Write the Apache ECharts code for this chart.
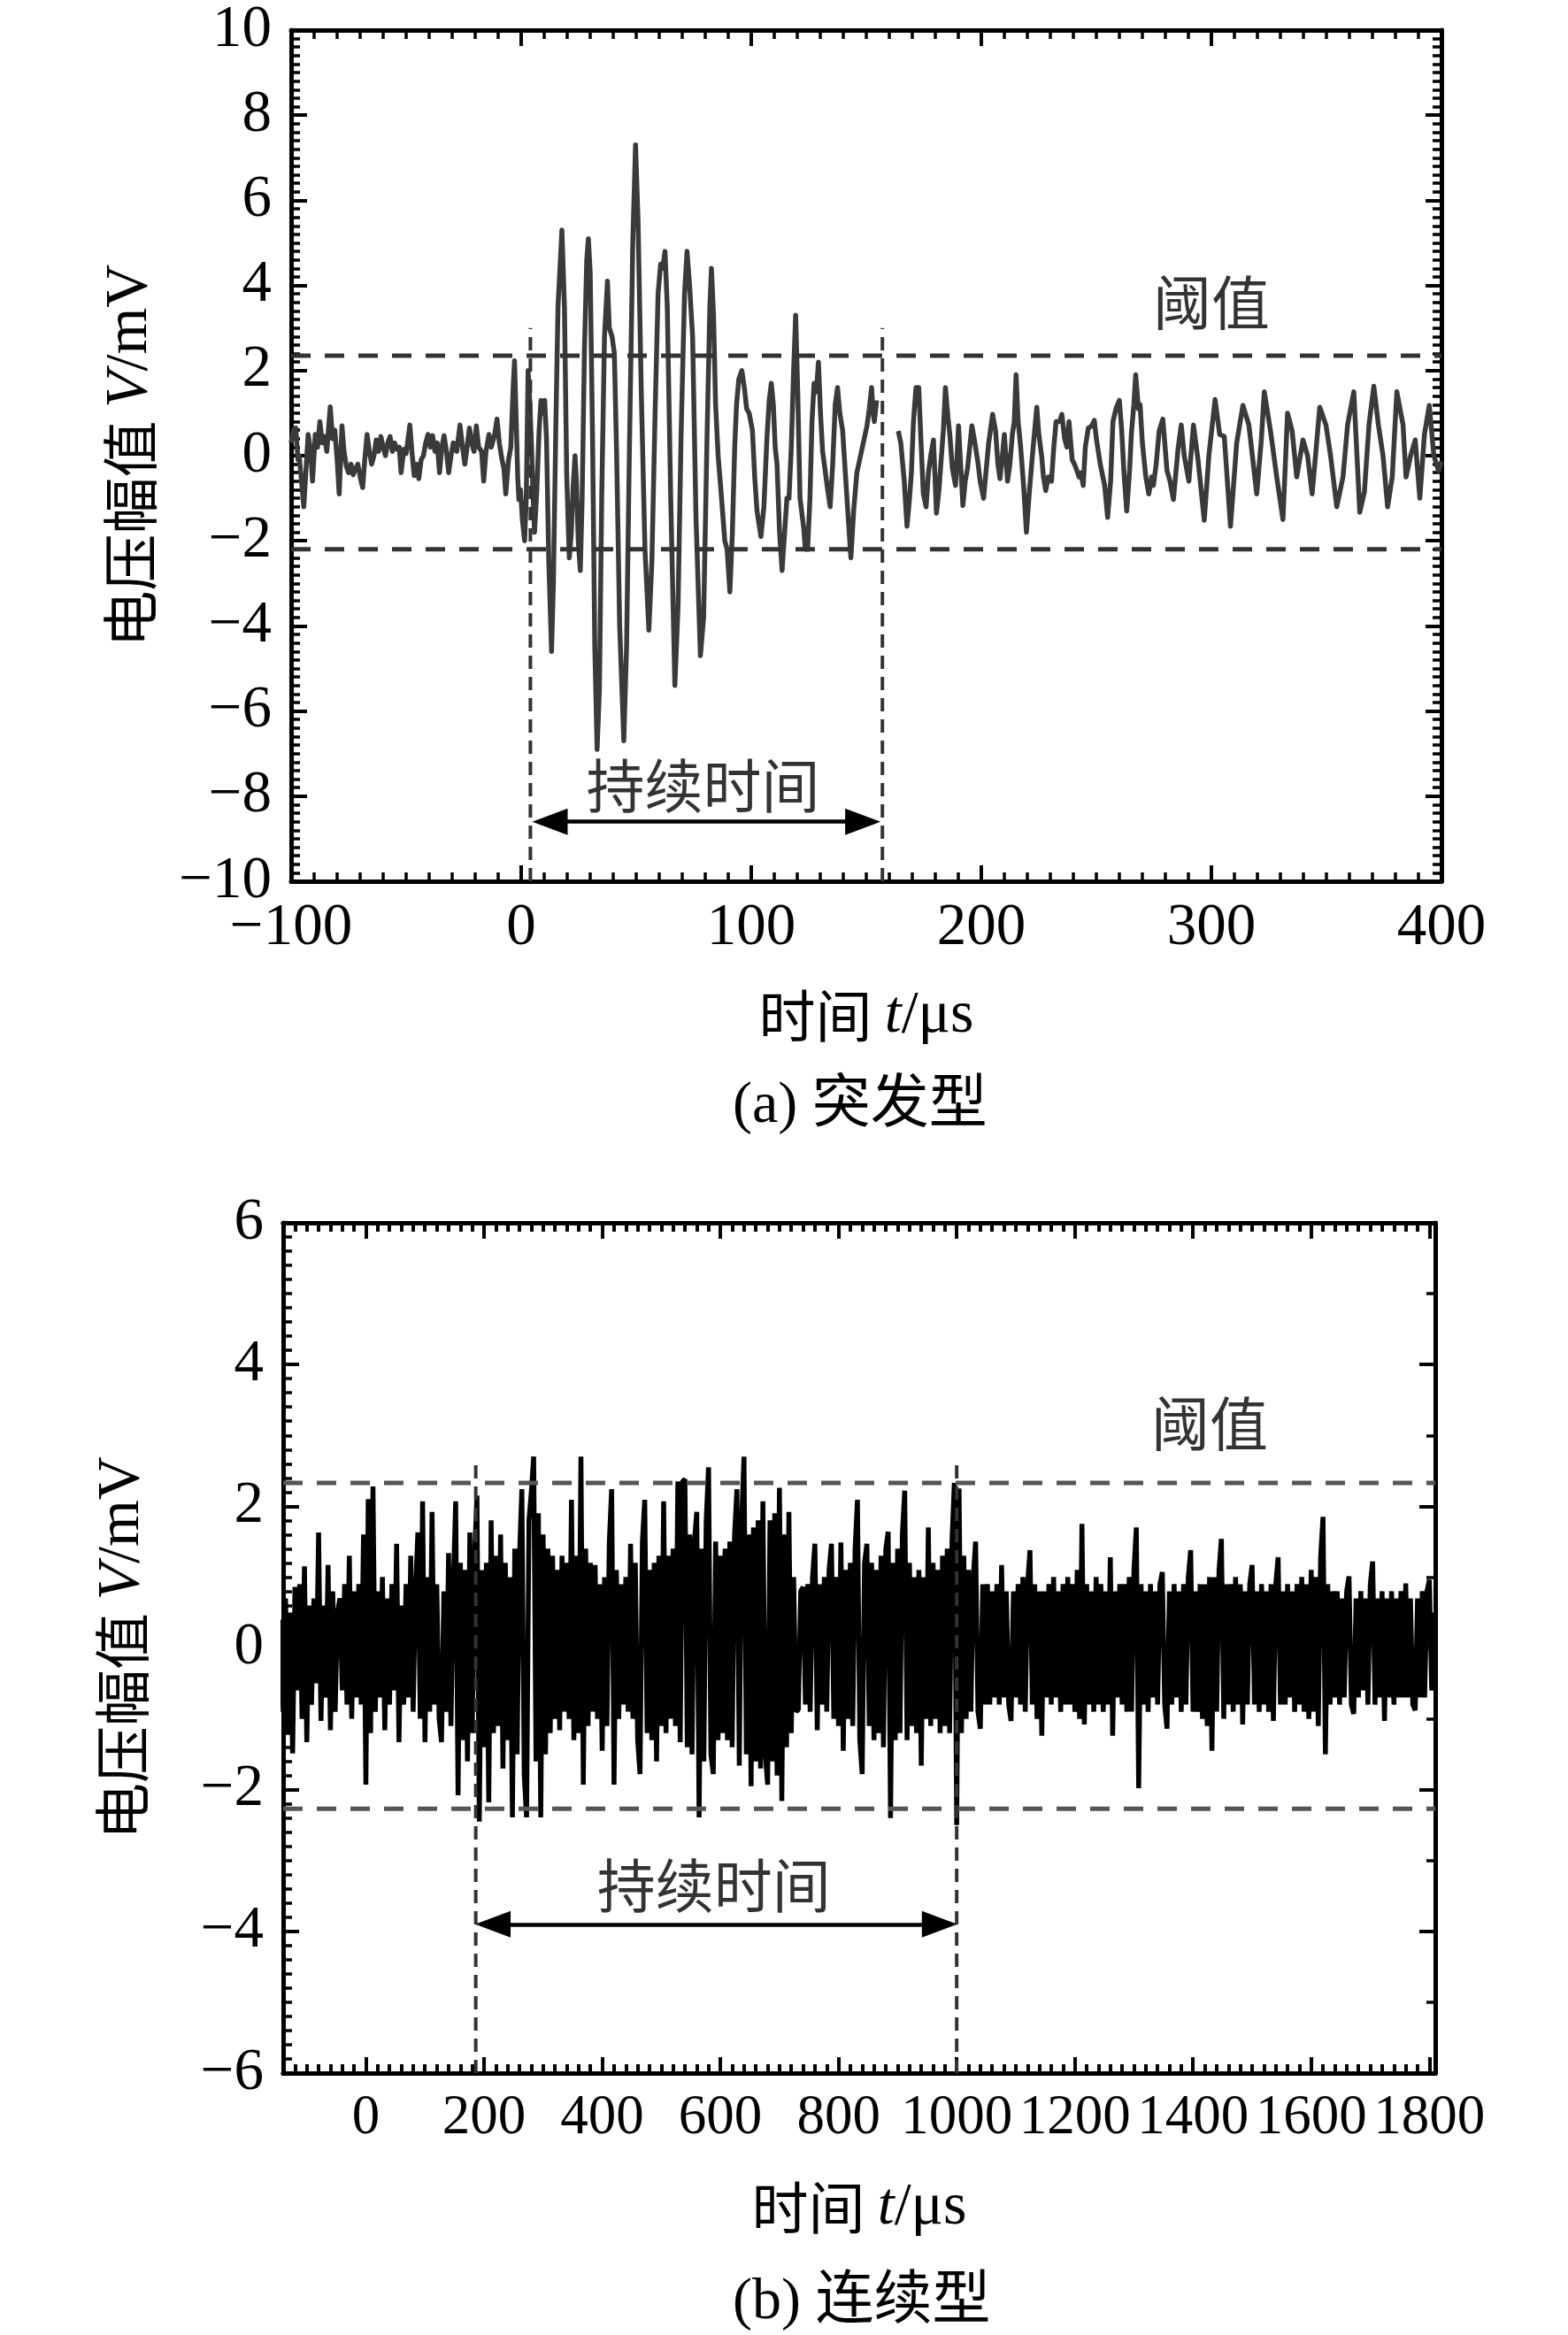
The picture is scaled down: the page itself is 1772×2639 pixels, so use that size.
<!DOCTYPE html>
<html lang="zh">
<head>
<meta charset="UTF-8">
<title>突发型与连续型信号</title>
<script src="https://cdn.jsdelivr.net/npm/echarts@6/dist/echarts.min.js"></script>
<style>
  html, body { margin: 0; padding: 0; background: #fff; }
  #main { width: 1772px; height: 2639px; }
</style>
</head>
<body>
<div id="main"></div>
<script>
// ---------- (a) 突发型 : [t (µs), V (mV)], '-' = break after the burst ----------
var burstSignal = [
  [-100,0.3],[-99,0.6],[-98,0.65],[-97,-0.1],[-96.5,0],[-95.5,-0.6],[-94.5,-1.2],[-93.5,-0.3],[-92.6,0.5],[-91.5,0.1],
  [-90.7,-0.6],[-89.5,0.5],[-88.5,0.2],[-87.5,0.8],[-86.5,0.3],[-85.5,0.45],[-84.5,0.1],[-83,1.15],[-82,0.4],[-81,0.6],
  [-80,-0.1],[-79.1,-0.9],[-77.9,0.7],[-77,0.1],[-76,-0.25],[-75,-0.4],[-74,-0.2],[-73,-0.45],[-72,-0.3],[-71,-0.2],
  [-70,-0.5],[-68.9,-0.75],[-68,-0.1],[-67,0.5],[-66,0.1],[-65,-0.2],[-64,0],[-63,0.37],[-62,0.1],[-61,0.45],
  [-60,0.2],[-59,0],[-58,0.3],[-57,0.45],[-56,0.1],[-55,0.3],[-54,0.15],[-53,0.2],[-52.2,-0.4],[-51,0.15],
  [-50,0.05],[-48.4,0.72],[-47.5,0.1],[-46.5,-0.47],[-45.5,-0.2],[-44.5,-0.54],[-43.5,-0.1],[-42.5,0],[-41.5,0.3],[-40.5,0.5],
  [-39.5,0.2],[-38.5,0.47],[-37.5,0.1],[-36.5,0.3],[-35.5,-0.4],[-34.5,0.2],[-33.5,0.47],[-32.5,0.1],[-31.5,-0.4],[-30.5,0],
  [-29.5,0.3],[-28,0.1],[-26.6,0.72],[-25.5,0.2],[-24.5,-0.2],[-23.5,0.2],[-22.5,0.65],[-21.5,0.3],[-20.5,0.1],[-19.5,0.7],
  [-18.5,0.2],[-17.2,0.1],[-16.3,-0.6],[-15.3,0.1],[-14,0.5],[-13,0.2],[-11.5,0.5],[-10.5,0.86],[-9.5,0.3],[-8.5,-0.05],
  [-7.5,-0.3],[-6.7,-0.9],[-5.5,-0.1],[-4.5,0.2],[-3.5,1.6],[-2.9,2.23],[-2.2,0.9],[-1.5,-0.5],[-1,-1.03],[-0.3,-0.8],
  [0.5,-1.5],[1.5,-2],[2.2,-1],[3,2],[3.8,1.2],[4.5,0.2],[5.2,-1],[5.8,-1.8],[6.8,-0.8],[7.8,0.6],
  [8.6,1.3],[9.5,1],[10.2,1.3],[11,0.4],[12,-2.5],[13.2,-4.6],[14,-3],[15,0.5],[16,3.5],[17.7,5.3],
  [18.8,3.5],[19.8,-0.5],[20.9,-2.4],[21.8,-1.8],[22.5,-0.8],[23.4,0],[24,-0.6],[24.8,-2],[25.7,-2.7],[26.5,-1],
  [27.5,2.5],[28.5,4.6],[29.2,5.1],[30,4.3],[31,0.5],[32,-4.5],[33,-6.9],[34,-5.5],[35,-1],[36.2,2.8],
  [37.5,4.1],[38.3,3],[39.5,2.8],[40.5,2.4],[41.5,0],[42.8,-4],[44.6,-6.7],[45.8,-4.5],[47,0],[48.5,5],
  [49.7,7.3],[50.8,5.5],[52.2,1.5],[53.8,-2.2],[55.5,-4.1],[56.8,-2.5],[58.2,1],[59.5,3.8],[60.6,4.5],[61.5,4.4],
  [62.5,4.8],[63.5,3.5],[65,-1],[66.8,-5.4],[68.2,-3.5],[69.5,0.5],[71,3.8],[72.1,4.8],[73.2,4],[74.5,2.8],
  [76,-1.5],[77.9,-4.7],[79.3,-3.8],[80.8,0.5],[82,3.5],[82.7,4.4],[83.6,3.3],[84.5,1.2],[85.6,0],[86.8,-0.8],
  [88.5,-2],[89.5,-2.2],[90.7,-3.2],[91.8,-1.8],[92.8,0.2],[93.6,1.2],[94.6,1.8],[95.9,2],[97,1.6],[98,1.1],
  [99.1,1],[100.5,0.6],[101.5,-0.5],[102.5,-1.3],[104.2,-1.9],[105.5,-1.2],[106.8,0.4],[107.8,1.3],[108.7,1.7],[109.6,1.2],
  [110.4,0.2],[111.2,-0.2],[112.3,-1.8],[113.4,-2.7],[114.5,-1.8],[115.5,-1],[116.4,-1],[117.4,0.2],[118.4,2],[119.3,3.3],
  [120.2,1.5],[121.2,-1],[122.8,-1.7],[123.5,-2.2],[124.5,-2.2],[125.5,-1],[126.4,0.8],[127.3,1.7],[128.3,1.5],[129.2,2.2],
  [130.1,1],[131,0.1],[132,-0.3],[133.2,-0.8],[134.3,-1.2],[135.4,-0.2],[136.5,1.2],[137.5,1.6],[138.5,1],[139.7,0.6],
  [141,-0.5],[142.2,-1.5],[143.3,-2.4],[144.5,-1.3],[145.9,-0.4],[147.5,0],[149.1,0.4],[150.3,0.7],[151.3,1.1],[152.3,1.6],
  [153,1],[153.5,0.8],[154.5,1.3],[158,'-'],
  [163.9,0.58],[165,0.3],[166.5,-0.6],[167.7,-1.66],[168.8,-1],[169.6,-0.4],[170.5,0.8],[171.6,1.6],[172.8,1.6],[173.8,0.3],
  [174.8,-0.9],[176,-1.2],[177,-0.4],[178,0],[179.2,0.37],[180.5,-1.35],[181.6,-0.8],[182.4,-0.2],[183.5,0.6],[184.4,1.6],
  [185.5,0.9],[186.3,0.5],[187.4,-0.3],[188.8,-0.7],[190.1,0.7],[191,-0.2],[192,-1.17],[193,-0.6],[194,-0.3],[195.9,0.7],
  [197.2,0.3],[198.5,-0.15],[199.5,-0.6],[201,-1],[202,-0.4],[203.2,0.3],[204.9,0.97],[206.2,0.58],[207.2,-0.2],[208.1,-0.54],
  [209,-0.1],[210,0.5],[211.4,-0.6],[212.4,-0.2],[213.5,0.5],[214.3,0.8],[215.1,1.9],[216,0.8],[217.1,0.2],[218.5,-0.8],
  [219.6,-1.8],[220.8,-0.9],[222.2,0],[223.2,0.6],[224.1,1.14],[225,0.5],[226.2,0],[227,-0.5],[228,-0.82],[229.1,-0.5],
  [230.5,-0.6],[231.5,0.2],[232.5,0.8],[234,0.8],[235,0.97],[236.2,0.4],[237.2,0.2],[238.1,0.8],[239.5,-0.1],[240.5,-0.2],
  [241.4,-0.33],[242.5,-0.5],[243.3,-0.4],[244.3,-0.7],[245.2,0.2],[246.5,0.65],[248,0.7],[249.1,0.83],[250,0.4],[251.7,-0.2],
  [253.6,-0.7],[254.9,-1.45],[256.2,-0.6],[257.2,0.8],[258.5,1.1],[260,1.3],[261,0.6],[262,-0.4],[263.2,-1.3],[264.5,-0.3],
  [265.2,0.5],[266.3,1.2],[267.1,1.9],[268.3,1.1],[269,1.2],[270,0.3],[271.5,-0.5],[272.8,-0.9],[274,-0.5],[274.8,-0.7],
  [276,-0.2],[277.3,0.58],[278.9,0.86],[280.7,-0.35],[282,-0.6],[283.5,-1.03],[285.5,0.16],[286.9,0.72],[288.2,0],[290.2,-0.6],
  [292.2,0.72],[294.2,-0.1],[296.9,-1.52],[298.9,0],[301.6,1.32],[303.6,0.5],[305.6,0.45],[308.3,-1.66],[311,0.3],[313.7,1.18],
  [316.3,0.72],[319.7,-0.9],[321.7,0.37],[323,1.5],[325.7,0.58],[328.4,-0.5],[331.1,-1.5],[333.1,1],[335.1,0.58],[337.1,-0.5],
  [339.8,0.37],[341.8,0],[343.8,-0.9],[347.1,1.14],[349.8,0.72],[351.8,0],[354.5,-1.2],[357.2,-0.5],[359.2,0.72],[361.9,1.5],
  [364.5,-1.33],[366.5,-0.85],[368.5,0.72],[370.6,1.63],[372.6,0.72],[374.6,0],[376.6,-1.2],[378.6,-0.5],[380.6,1.5],[383.3,0.72],
  [384.6,-0.5],[386.6,0],[388.6,0.37],[390.6,-1],[392.6,0.5],[394.7,1.18],[396.7,0],[398.7,-0.35],[400,-0.14]
];
var burstThreshold = [2.35, -2.2];     // mV
var burstDuration = [4, 157];          // µs, dashed verticals
var burstDurationTop = 3;              // mV, top of the verticals
var burstArrow = [12.5, 148.5, -8.6];  // from, to, level
var burstLabelPos = [79, -7.75];
var burstThresholdPos = [300, 3.6];

// ---------- (b) 连续型 : sampled every 4 µs from -144 µs ----------
var contStart = -144, contStep = 4;
var contValues = [
  0.4,-0.9,0.7,-1.2,0.5,-1.49,0.86,-0.6,0.9,-1.0,1.15,-1.33,0.6,-0.8,0.7,-0.5,1.63,-1.03,0.6,-0.7,1.17,-1.16,0.8,-0.9,0.5,
  0.7,-0.6,0.9,-0.8,1.3,-1.0,0.8,-0.7,0.9,-0.8,1.6,-1.93,2.1,-1.2,2.28,-0.9,0.8,-0.7,1.0,-1.16,0.7,-0.8,0.9,-0.6,1.47,
  -1.33,0.6,-0.8,0.9,-0.7,1.3,-0.9,0.8,1.63,-1.0,2.07,-1.33,1.0,-0.9,1.92,-0.8,0.9,-1.0,-1.33,0.8,-0.9,1.34,-1.1,0.9,2.07,
  -2.08,1.2,-1.3,1.1,-1.6,1.63,-1.2,1.3,2.15,-2.45,1.1,-1.4,1.2,-2.18,1.8,-1.2,1.3,-1.1,1.6,-1.7,1.2,-1.3,1.0,-2.39,1.4,
  -1.5,1.3,2.24,-1.8,-2.39,1.8,2.2,2.7,-1.6,1.9,-2.39,1.6,-1.5,1.4,-1.2,1.3,-1.0,1.1,-1.16,1.3,-0.9,1.2,-1.0,2.09,-1.3,
  1.3,-1.2,2.7,-1.93,1.4,-1.1,1.2,-0.9,1.17,-1.0,0.9,-1.45,1.0,-1.1,1.5,2.24,-1.93,1.1,-1.0,0.9,-0.8,1.0,-0.9,1.47,-1.0,
  1.2,-1.3,-1.78,1.5,2.09,-1.2,1.1,-1.3,1.2,-1.6,1.3,-1.1,2.07,-1.2,1.3,-1.0,1.4,-1.1,2.35,-1.33,2.35,2.38,-1.4,1.6,-1.5,
  1.5,1.92,-2.39,1.4,-1.6,1.8,2.55,-1.5,-1.78,1.5,-1.3,1.3,-1.2,1.4,-1.3,1.5,-1.4,1.6,2.24,-1.66,1.8,2.7,-1.5,1.6,-1.95,
  1.7,-1.6,1.8,-1.7,2.07,-1.5,-1.93,1.8,-1.6,1.9,-1.8,2.26,-2.16,1.6,-1.4,1.92,-1.2,1.0,-0.9,-0.87,0.8,0.86,-0.8,0.9,-0.9,
  1.0,1.47,-1.16,0.9,-0.8,1.0,-0.9,1.1,1.47,-1.0,1.0,-1.1,1.49,-1.45,1.1,-1.0,1.2,-1.1,1.4,2.09,-1.3,-1.78,1.2,1.47,-1.1,
  1.2,-1.3,1.1,-1.2,1.3,-1.4,1.4,1.64,-2.4,1.2,-1.3,1.4,-1.2,1.6,2.22,-1.3,1.2,-1.1,1.0,-1.2,1.1,-1.66,1.0,-1.0,1.7,
  -1.1,1.2,-1.0,1.1,-1.2,1.3,-1.1,1.4,-1.2,1.5,2.33,-2.5,2.25,-1.2,1.3,-1.0,1.1,-0.9,1.0,1.5,-0.9,-1.14,0.9,-0.8,0.9,
  -0.8,0.8,-0.7,0.9,-0.8,1.17,-0.7,0.8,-0.8,-1.03,0.8,-0.7,0.9,-0.8,1.0,-0.9,0.9,1.38,-0.8,0.9,-1.0,0.8,-1.24,0.8,-0.7,
  0.9,-0.8,1.0,-0.7,0.8,-0.9,0.9,-0.8,1.0,-0.8,0.9,-0.9,1.1,-1.0,1.75,-1.08,0.9,-0.8,0.8,-0.9,1.0,-0.8,0.9,-0.9,0.8,
  -0.8,1.28,-1.24,0.8,-0.7,0.9,-0.8,0.9,-0.9,1.0,-0.9,1.1,1.7,-1.98,0.9,-0.8,0.8,-0.9,0.9,-0.7,0.8,-0.8,0.9,1.07,-0.8,
  -1.14,0.8,-0.8,0.9,-0.7,0.8,-0.9,0.9,-0.8,1.0,1.38,-0.9,0.8,-0.9,0.9,-1.0,0.9,-1.1,1.0,-1.45,1.0,-0.9,1.1,1.54,-1.0,
  0.9,-0.8,0.9,-0.9,1.0,-0.8,0.9,-1.08,0.8,-0.8,0.9,1.17,-0.8,0.8,-0.9,0.9,-0.8,0.8,-0.9,0.9,-1.03,0.9,1.28,-0.8,0.8,
  -0.8,0.9,-0.7,0.8,-0.9,0.9,-0.8,1.0,-0.9,0.9,-1.0,1.1,-0.9,1.0,-1.1,1.3,1.85,-1.5,0.9,-0.8,0.8,-0.7,0.8,-0.8,0.7,
  -0.7,0.8,1.01,-0.8,-0.93,0.7,-0.7,0.8,-0.6,0.7,-0.8,0.9,1.22,-0.8,0.7,-0.7,0.8,-1.03,0.7,-0.7,0.8,-0.8,0.7,-0.7,0.8,
  -0.7,0.91,-0.7,0.7,-0.8,-0.88,0.7,-0.7,0.8,-0.7,0.8,0.96,-0.6,0.5
];
var contThreshold = [2.33, -2.27];
var contDuration = [186, 1000];
var contDurationTop = 2.66;
var contArrow = [215, 971, -3.9];
var contLabelPos = [589, -3.35];
var contThresholdPos = [1428, 3.17];
var contXLabels = [0, 200, 400, 600, 800, 1000, 1200, 1400, 1600, 1800];

var NUM_FONT = '"Liberation Serif", "Noto Sans CJK SC", serif';
var CJK_FONT = '"Noto Sans CJK SC", "Liberation Serif", sans-serif';

function minus(v) { return (v < 0 ? '\u2212' : '') + Math.abs(v); }

var titleRich = {
  c: { fontFamily: CJK_FONT, fontSize: 64, color: '#000' },
  n: { fontFamily: NUM_FONT, fontSize: 68, color: '#000' },
  i: { fontFamily: NUM_FONT, fontSize: 68, fontStyle: 'italic', color: '#000' }
};

// one side of the frame
function side(o) {
  var a = {
    type: 'value',
    gridIndex: o.grid,
    position: o.pos,
    min: o.min, max: o.max,
    axisLine: { show: true, onZero: false, lineStyle: { color: '#000', width: 5 } },
    axisTick: { show: o.tickLen > 0, inside: true, length: o.tickLen || 0, lineStyle: { color: '#000', width: 4 } },
    minorTick: { show: !!o.minor, splitNumber: o.minor || 5, length: 10, lineStyle: { color: '#000', width: 3.5 } },
    axisLabel: { show: !!o.label, margin: o.margin || 20, fontFamily: NUM_FONT, fontSize: o.fontSize || 67,
                 color: '#000', formatter: minus, showMinLabel: true, showMaxLabel: true, hideOverlap: false },
    splitLine: { show: false },
    minorSplitLine: { show: false }
  };
  if (o.interval) a.interval = o.interval;
  if (o.custom) {
    a.axisTick.customValues = o.custom;
    a.axisLabel.customValues = o.custom;
  }
  if (o.name) {
    a.name = o.name;
    a.nameLocation = 'middle';
    a.nameGap = o.nameGap;
    a.nameRotate = o.nameRotate || 0;
    a.nameTextStyle = { rich: titleRich };
  }
  return a;
}

var xAxes = [
  // (a)
  side({ grid: 0, pos: 'bottom', min: -100, max: 400, interval: 100, tickLen: 18, minor: 10, label: true,
         name: '{c|时间 }{i|t}{n|/μs}', nameGap: 118 }),
  side({ grid: 0, pos: 'top', min: -100, max: 400, interval: 100, tickLen: 18, minor: 10 }),
  // (b): fine ticks every 20 µs, long ticks and labels on the 200 µs marks
  side({ grid: 1, pos: 'bottom', min: -140, max: 1810, interval: 20, tickLen: 10,
         name: '{c|时间 }{i|t}{n|/μs}', nameGap: 118 }),
  side({ grid: 1, pos: 'bottom', min: -140, max: 1810, tickLen: 18, custom: contXLabels, label: true, fontSize: 63 }),
  side({ grid: 1, pos: 'top', min: -140, max: 1810, interval: 20, tickLen: 10 }),
  side({ grid: 1, pos: 'top', min: -140, max: 1810, tickLen: 18, custom: contXLabels })
];

var yAxes = [
  side({ grid: 0, pos: 'left', min: -10, max: 10, interval: 2, tickLen: 18, minor: 10, label: true, margin: 22,
         name: '{c|电压幅值 }{i|V}{n|/mV}', nameGap: 148, nameRotate: 90 }),
  side({ grid: 0, pos: 'right', min: -10, max: 10, interval: 2, tickLen: 18, minor: 10 }),
  side({ grid: 1, pos: 'left', min: -6, max: 6, interval: 2, tickLen: 18, minor: 10, label: true, margin: 22,
         name: '{c|电压幅值 }{i|V}{n|/mV}', nameGap: 148, nameRotate: 90 }),
  side({ grid: 1, pos: 'right', min: -6, max: 6, interval: 2, tickLen: 18, minor: 2 })
];

var contSignal = contValues.map(function (v, i) { return [contStart + i * contStep, v]; });

function hLine(xi, yi, x0, x1, y, color) {
  return {
    type: 'line', xAxisIndex: xi, yAxisIndex: yi, data: [[x0, y], [x1, y]],
    showSymbol: false, silent: true, z: 4,
    lineStyle: { color: color, width: 5, type: [22, 16] }
  };
}
function vLine(xi, yi, x, y0, y1) {
  return {
    type: 'line', xAxisIndex: xi, yAxisIndex: yi, data: [[x, y0], [x, y1]],
    showSymbol: false, silent: true, z: 4,
    lineStyle: { color: '#333', width: 4, type: [15, 9] }
  };
}
function arrow(xi, yi, a) {
  return {
    type: 'line', xAxisIndex: xi, yAxisIndex: yi, data: [], silent: true,
    markLine: {
      silent: true, animation: false,
      symbol: ['triangle', 'triangle'], symbolSize: [30, 40],
      label: { show: false },
      lineStyle: { color: '#000', width: 4.5, type: 'solid' },
      data: [[{ coord: [a[0], a[2]] }, { coord: [a[1], a[2]] }]]
    }
  };
}
function textAt(xi, yi, pos, txt) {
  return {
    type: 'scatter', xAxisIndex: xi, yAxisIndex: yi, symbolSize: 0, silent: true, z: 6,
    data: [{ value: pos, name: txt }],
    label: { show: true, position: 'inside', formatter: '{b}', fontFamily: CJK_FONT, fontSize: 66, color: '#000' }
  };
}

var series = [
  { type: 'line', xAxisIndex: 0, yAxisIndex: 0, data: burstSignal, showSymbol: false, connectNulls: false,
    lineStyle: { color: '#3a3a3a', width: 5.5, join: 'round' }, z: 3 },
  hLine(0, 0, -100, 400, burstThreshold[0], '#333'),
  hLine(0, 0, -100, 400, burstThreshold[1], '#333'),
  vLine(0, 0, burstDuration[0], -10, burstDurationTop),
  vLine(0, 0, burstDuration[1], -10, burstDurationTop),
  arrow(0, 0, burstArrow),
  textAt(0, 0, burstLabelPos, '持续时间'),
  textAt(0, 0, burstThresholdPos, '阈值'),

  { type: 'line', xAxisIndex: 2, yAxisIndex: 2, data: contSignal, showSymbol: false,
    lineStyle: { color: '#000', width: 5.5 }, z: 3 },
  hLine(2, 2, -140, 1810, contThreshold[0], '#555'),
  hLine(2, 2, -140, 1810, contThreshold[1], '#555'),
  vLine(2, 2, contDuration[0], -6, contDurationTop),
  vLine(2, 2, contDuration[1], -6, contDurationTop),
  arrow(2, 2, contArrow),
  textAt(2, 2, contLabelPos, '持续时间'),
  textAt(2, 2, contThresholdPos, '阈值')
];

var chart = echarts.init(document.getElementById('main'), null, { renderer: 'canvas' });
chart.setOption({
  animation: false,
  backgroundColor: '#fff',
  grid: [
    { left: 329, top: 34, width: 1300, height: 962, show: false },
    { left: 320, top: 1382, width: 1302, height: 961, show: false }
  ],
  xAxis: xAxes,
  yAxis: yAxes,
  series: series,
  graphic: [
    { type: 'text', left: 828, top: 1218,
      style: { text: '(a) 突发型', font: '66px ' + NUM_FONT, fill: '#000' } },
    { type: 'text', left: 828, top: 2570,
      style: { text: '(b) 连续型', font: '66px ' + NUM_FONT, fill: '#000' } }
  ]
});
</script>
</body>
</html>
